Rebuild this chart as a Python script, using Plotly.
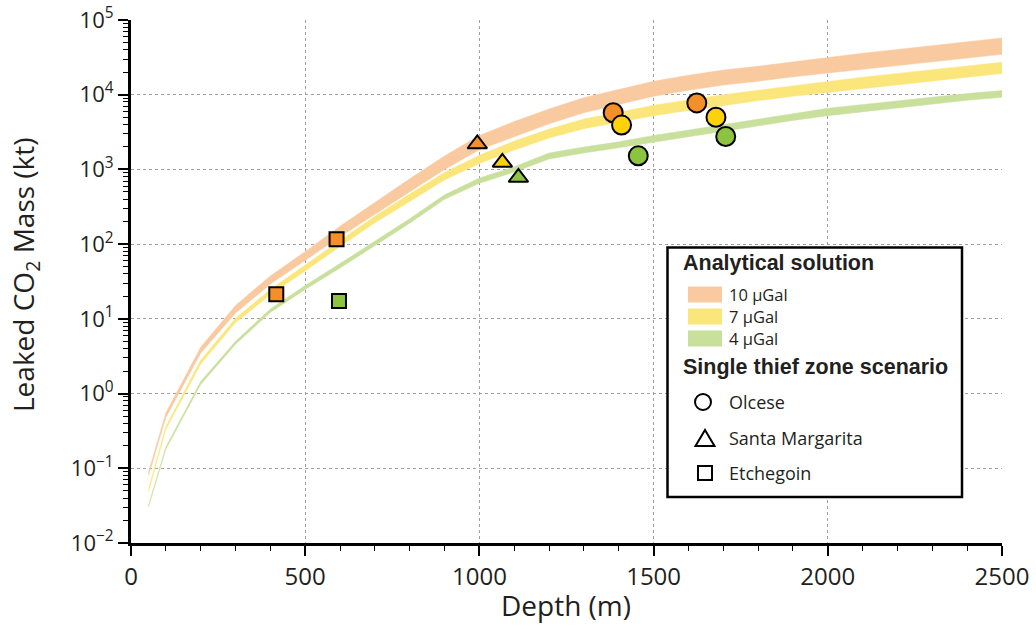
import plotly.graph_objects as go

# ---------------- data ----------------
depth_grid = [50, 100, 200, 300, 400, 500, 600, 700, 800, 900, 1000, 1100, 1200,
              1300, 1400, 1500, 1600, 1700, 1800, 1900, 2000, 2100, 2200, 2300, 2400, 2500]

# Analytical solution bands (kt): lower / upper edges
band10_lo = [0.079, 0.48, 3.47, 12.0, 29.2, 60.3, 126, 251, 507, 1000, 1841, 2754, 4074,
             5754, 7413, 9550, 11482, 13490, 15136, 17378, 19498, 22131, 24831, 27542, 30903, 34674]
band10_hi = [0.087, 0.55, 4.17, 15.1, 37.6, 79.4, 174, 363, 750, 1514, 2851, 4365, 6457,
             9120, 11749, 15136, 18197, 21380, 23988, 27542, 30903, 35892, 40272, 45709, 51286, 57544]
band7_lo = [0.0484, 0.331, 2.48, 8.91, 21.1, 43.7, 93.3, 193, 372, 724, 1202, 1820, 2630,
            3508, 4315, 5248, 6166, 7244, 8318, 9550, 10839, 12162, 13646, 15311, 17179, 19275]
band7_hi = [0.0519, 0.363, 2.79, 10.2, 24.8, 52.5, 112, 237, 468, 912, 1549, 2399, 3467,
            4732, 5821, 7244, 8511, 10000, 11482, 13183, 15311, 17179, 19275, 21627, 24266, 27227]
band4_lo = [0.0301, 0.180, 1.32, 4.57, 12.2, 24.8, 47.9, 95.5, 191, 398, 653, 923, 1380,
            1660, 1950, 2317, 2723, 3199, 3846, 4519, 5248, 5888, 6683, 7499, 8414, 9226]
band4_hi = [0.0318, 0.193, 1.45, 5.01, 13.6, 27.9, 55.0, 110, 219, 457, 767, 1084, 1660,
            1995, 2344, 2851, 3350, 3936, 4732, 5559, 6607, 7413, 8222, 9226, 10351, 11350]

# Single thief zone scenario points
olcese_depth = [1384, 1408, 1456, 1624, 1679, 1707]
olcese_mass = [5740, 3920, 1520, 7770, 4990, 2760]
olcese_level = ["10", "7", "4", "10", "7", "4"]

santa_depth = [994, 1066, 1112]
santa_mass = [2190, 1240, 780]
santa_level = ["10", "7", "4"]

etch_depth = [417, 590, 597]
etch_mass = [21.3, 116, 17.4]
etch_level = ["10", "10", "4"]

band_labels = ["10 μGal", "7 μGal", "4 μGal"]
scenario_labels = ["Olcese", "Santa Margarita", "Etchegoin"]
y_tickvals = [1e-2, 1e-1, 1e0, 1e1, 1e2, 1e3, 1e4, 1e5]
y_ticktext = ["10<sup>−2</sup>", "10<sup>−1</sup>", "10<sup>0</sup>", "10<sup>1</sup>",
              "10<sup>2</sup>", "10<sup>3</sup>", "10<sup>4</sup>", "10<sup>5</sup>"]
y_minor_vals = [m * 10.0 ** e for e in range(-2, 5) for m in range(2, 10)]
x_minor_vals = list(range(0, 2501, 100))

# ---------------- styles ----------------
band_colors = {"10": "#f9c9a0", "7": "#fbe67c", "4": "#c8e09c"}
marker_colors = {"10": "#f58f2a", "7": "#fed208", "4": "#8cc43f"}
TXT = "#231f20"
FONT = "Open Sans"
BOLD = "Liberation Sans"

fig = go.Figure()

for key, lo, hi in [("10", band10_lo, band10_hi), ("7", band7_lo, band7_hi), ("4", band4_lo, band4_hi)]:
    fig.add_trace(go.Scatter(
        x=depth_grid + depth_grid[::-1], y=hi + lo[::-1],
        fill="toself", fillcolor=band_colors[key], mode="lines",
        line=dict(width=0.5, color=band_colors[key]), showlegend=False, hoverinfo="skip"))

def add_points(xs, ys, levels, symbol, size):
    fig.add_trace(go.Scatter(
        x=xs, y=ys, mode="markers", showlegend=False,
        marker=dict(symbol=symbol, size=size, color=[marker_colors[l] for l in levels],
                    line=dict(color="black", width=2))))

add_points(etch_depth, etch_mass, etch_level, "square", 14)
add_points(santa_depth, santa_mass, santa_level, "triangle-up", 17)
add_points(olcese_depth, olcese_mass, olcese_level, "circle", 19)

# ---------------- layout ----------------
# body margin removed by post_script, so the figure fills the 1036x636 window
W, H = 1036, 636
L, R, T, B = 131, 34, 20, 93
PW, PH = W - L - R, H - T - B

def px(x):
    return (x - L) / PW

def py(y):
    return (H - B - y) / PH

fig.update_layout(
    template="none",
    width=W, height=H, margin=dict(l=L, r=R, t=T, b=B, autoexpand=False),
    paper_bgcolor="white", plot_bgcolor="white", showlegend=False,
    font=dict(family=FONT, color=TXT),
)
fig.update_xaxes(
    range=[0, 2500], tickmode="linear", dtick=500, tick0=0, automargin=False,
    ticklabeloverflow="allow",
    showline=True, linewidth=3, linecolor="black", mirror=False,
    ticks="outside", ticklen=10, tickwidth=2, tickcolor="black",
    tickfont=dict(family=FONT, size=24, color=TXT),
    showgrid=True, gridcolor="#a0a0a0", gridwidth=1, griddash="3px,3px",
    minor=dict(tickmode="array", tickvals=x_minor_vals, ticks="outside", ticklen=5,
               tickwidth=1.2, tickcolor="black", showgrid=False),
    zeroline=False,
)
fig.update_yaxes(
    type="log", range=[-2, 5], tickmode="array", tickvals=y_tickvals, ticktext=y_ticktext,
    automargin=False, ticklabeloverflow="allow",
    showline=True, linewidth=3, linecolor="black", mirror=False,
    ticks="outside", ticklen=10, tickwidth=2, tickcolor="black",
    tickfont=dict(family=FONT, size=22, color=TXT),
    showgrid=True, gridcolor="#a0a0a0", gridwidth=1, griddash="3px,3px",
    minor=dict(tickmode="array", tickvals=y_minor_vals, ticks="outside", ticklen=5,
               tickwidth=1.2, tickcolor="black", showgrid=False),
    zeroline=False,
)

annotations = [
    dict(text="Depth (m)", x=px(566), y=py(605), xref="paper", yref="paper",
         showarrow=False, xanchor="center", yanchor="middle", font=dict(size=28, family=FONT, color=TXT)),
    dict(text="Leaked CO<sub>2</sub> Mass (kt)", x=px(25), y=py(275), xref="paper", yref="paper",
         showarrow=False, textangle=-90, xanchor="center", yanchor="middle",
         font=dict(size=28, family=FONT, color=TXT)),
]

shapes = [
    dict(type="rect", xref="paper", yref="paper", x0=px(667.5), x1=px(962), y0=py(497), y1=py(247.5),
         line=dict(color="black", width=2.5), fillcolor="white", layer="above"),
]

annotations.append(dict(text="<b>Analytical solution</b>", x=px(681), y=py(263), xref="paper", yref="paper",
                        showarrow=False, xanchor="left", yanchor="middle",
                        font=dict(size=21.5, family=BOLD, color=TXT)))
for i, (key, lab) in enumerate(zip(["10", "7", "4"], band_labels)):
    yc = 294.5 + 22 * i
    shapes.append(dict(type="rect", xref="paper", yref="paper", x0=px(688), x1=px(722),
                       y0=py(yc + 8), y1=py(yc - 8), line=dict(width=0), fillcolor=band_colors[key], layer="above"))
    annotations.append(dict(text=lab, x=px(728), y=py(yc), xref="paper", yref="paper",
                            showarrow=False, xanchor="left", yanchor="middle", borderpad=0,
                            font=dict(size=16.5, family=FONT, color=TXT)))

annotations.append(dict(text="<b>Single thief zone scenario</b>", x=px(681), y=py(367), xref="paper", yref="paper",
                        showarrow=False, xanchor="left", yanchor="middle",
                        font=dict(size=21.5, family=BOLD, color=TXT)))

sym_y = [402, 438, 473]
shapes.append(dict(type="circle", xref="paper", yref="paper", xsizemode="pixel", ysizemode="pixel",
                   xanchor=px(703), yanchor=py(402), x0=-8, x1=8, y0=-8, y1=8,
                   line=dict(color="black", width=2), fillcolor="white", layer="above"))
shapes.append(dict(type="path", xref="paper", yref="paper", xsizemode="pixel", ysizemode="pixel",
                   xanchor=px(705), yanchor=py(440), path="M -9.5,-6 L 9.5,-6 L 0,10 Z",
                   line=dict(color="black", width=2), fillcolor="white", layer="above"))
shapes.append(dict(type="rect", xref="paper", yref="paper", xsizemode="pixel", ysizemode="pixel",
                   xanchor=px(705), yanchor=py(473), x0=-7, x1=7, y0=-7, y1=7,
                   line=dict(color="black", width=2), fillcolor="white", layer="above"))
for lab, yc in zip(scenario_labels, sym_y):
    annotations.append(dict(text=lab, x=px(727), y=py(yc), xref="paper", yref="paper",
                            showarrow=False, xanchor="left", yanchor="middle",
                            font=dict(size=18, family=FONT, color=TXT)))

fig.update_layout(annotations=annotations, shapes=shapes)
fig.write_html("out.html", config={"displayModeBar": False},
               post_script="document.body.style.margin='0';")
